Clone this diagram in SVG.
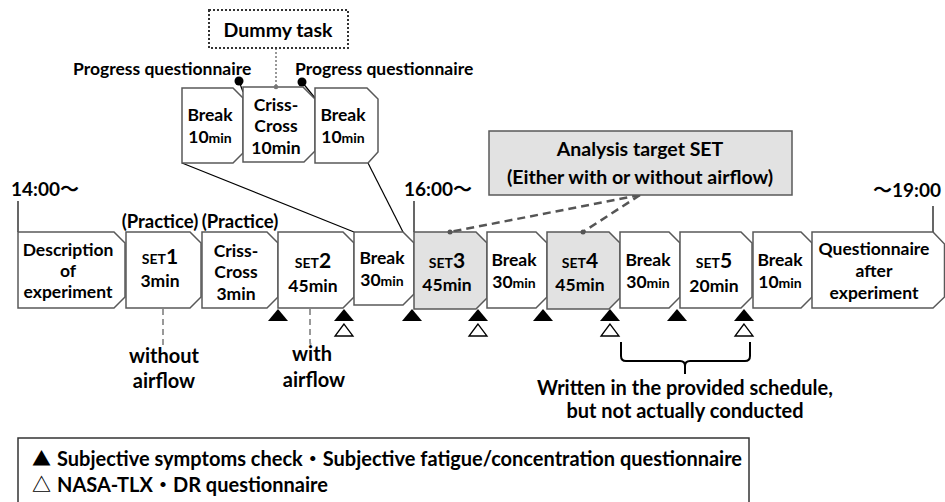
<svg xmlns="http://www.w3.org/2000/svg" width="945" height="502" viewBox="0 0 945 502">
<defs>
<style>
text{font-family:Lato,"Noto Sans CJK JP",sans-serif;font-weight:700;fill:#000;font-size:17.5px}
.c{text-anchor:middle}
.l20{font-size:20px}
.l19{font-size:19px}
.box{fill:#fff;stroke:#595959;stroke-width:1.5}
.gray{fill:#e2e2e2}
.sm{font-size:14px}
.big{font-size:21px}
.tf{fill:#000}
.to{fill:#fff;stroke:#000;stroke-width:1.3}
.ln{stroke:#000;stroke-width:1.2;fill:none}
.dash{stroke:#555;stroke-width:2.5;stroke-dasharray:8 5;fill:none}
.gdash{stroke:#999;stroke-width:2;stroke-dasharray:6 4;fill:none}
.dot{stroke:#777;stroke-width:1.5;stroke-dasharray:2 2;fill:none}
.cjk{font-family:"Noto Sans CJK JP",sans-serif}
.tri{font-family:"Noto Sans CJK JP",sans-serif;font-size:19px}
</style>
</defs>
<rect width="945" height="502" fill="#fff"/>

<g id="connectors">
<line class="ln" x1="182" y1="163" x2="354" y2="232"/>
<line class="ln" x1="368" y1="163" x2="403" y2="232"/>
<line class="dot" x1="276" y1="48" x2="276" y2="87"/>
<line class="ln" x1="18" y1="201" x2="18" y2="232"/>
<line class="ln" x1="414" y1="201" x2="414" y2="232"/>
<line class="ln" x1="933" y1="206" x2="933" y2="232"/>
<line class="dash" x1="640" y1="195" x2="450" y2="232"/>
<line class="dash" x1="640" y1="195" x2="583" y2="232"/>
<line class="gdash" x1="163" y1="309" x2="163" y2="346"/>
<path class="gdash" d="M310,309 V342 Q310,345 313,346"/>
<path d="M621,342 V356 Q621,361 626,361 H680 Q685,361 685,366 V374 M685,366 Q685,361 690,361 H745 Q750,361 750,356 V342" fill="none" stroke="#000" stroke-width="2"/>
</g>

<g id="dummy-task">
<rect x="209" y="10" width="139" height="38" fill="#fff" stroke="#333" stroke-width="2" stroke-dasharray="2 2"/>
<text class="c" x="278" y="37" style="font-size:19.5px">Dummy task</text>
</g>

<g id="progress-left">
<text x="73" y="75">Progress questionnaire</text>
<line class="ln" x1="239" y1="81" x2="243" y2="92"/>
<circle cx="239" cy="81" r="4.5" fill="#000"/>
</g>
<g id="progress-right">
<text x="295" y="75">Progress questionnaire</text>
<line class="ln" x1="302" y1="82" x2="315" y2="98"/>
<circle cx="302" cy="82" r="4.5" fill="#000"/>
</g>

<g id="break10-a">
<path class="box" d="M182,88 H233 L243,98 V153 L233,163 H182 Z"/>
<text class="c" x="210" y="121">Break</text>
<text class="c" x="210" y="143">10<tspan class="sm">min</tspan></text>
</g>
<g id="crisscross-10">
<path class="box" d="M243,87 H303 L315,99 V151 L304,162 H243 Z"/>
<circle cx="276" cy="87" r="2.3" fill="#777"/>
<text class="c" x="276" y="111">Criss-</text>
<text class="c" x="276" y="132">Cross</text>
<text class="c" x="276" y="154">10min</text>
</g>
<g id="break10-b">
<path class="box" d="M315,88 H367 L378,99 V152 L368,163 H315 Z"/>
<text class="c" x="343" y="121">Break</text>
<text class="c" x="343" y="143">10<tspan class="sm">min</tspan></text>
</g>

<g id="time-1400"><text class="l19" x="11" y="196">14:00～</text></g>
<g id="time-1600"><text class="l19" x="404" y="196">16:00～</text></g>
<g id="time-1900"><text class="l19" x="873" y="197">～19:00</text></g>

<g id="analysis-target">
<rect x="489" y="131" width="303" height="64" fill="#e2e2e2" stroke="#595959" stroke-width="1.5"/>
<text class="c" x="640" y="156" style="font-size:19.5px">Analysis target SET</text>
<text class="c" x="640" y="184" style="font-size:19.5px">(Either with or without airflow)</text>
</g>

<g id="practice-labels">
<text class="c" x="160" y="228" style="font-size:18.5px">(Practice)</text>
<text class="c" x="240" y="228" style="font-size:18.5px">(Practice)</text>
</g>

<g id="description">
<path class="box" d="M18,232 H114 L125,243 V297 L114,308 H18 Z"/>
<text class="c" x="68" y="256">Description</text>
<text class="c" x="68" y="277">of</text>
<text class="c" x="68" y="298">experiment</text>
</g>
<g id="set1">
<path class="box" d="M126,232 H190 L201,243 V297 L190,308 H126 Z"/>
<text class="c" x="160" y="264"><tspan class="sm">SET</tspan><tspan class="big">1</tspan></text>
<text class="c" x="160" y="287">3min</text>
</g>
<g id="crisscross-3">
<path class="box" d="M202,232 H267 L278,243 V297 L267,308 H202 Z"/>
<text class="c" x="236" y="257">Criss-</text>
<text class="c" x="236" y="278">Cross</text>
<text class="c" x="236" y="300">3min</text>
</g>
<g id="set2">
<path class="box" d="M278,232 H343 L354,243 V297 L343,308 H278 Z"/>
<text class="c" x="313" y="268"><tspan class="sm">SET</tspan><tspan class="big">2</tspan></text>
<text class="c" x="313" y="292">45min</text>
</g>
<g id="break30-a">
<path class="box" d="M354,232 H403 L414,243 V294 L403,305 H354 Z"/>
<text class="c" x="382" y="264">Break</text>
<text class="c" x="382" y="286">30<tspan class="sm">min</tspan></text>
</g>
<g id="set3">
<path class="box gray" d="M414,232 H476 L487,243 V298 L476,309 H414 Z"/>
<circle cx="450" cy="232" r="2.5" fill="#555"/>
<text class="c" x="447" y="268"><tspan class="sm">SET</tspan><tspan class="big">3</tspan></text>
<text class="c" x="447" y="291">45min</text>
</g>
<g id="break30-b">
<path class="box" d="M487,232 H536 L547,243 V297 L536,308 H487 Z"/>
<text class="c" x="514" y="266">Break</text>
<text class="c" x="514" y="288">30<tspan class="sm">min</tspan></text>
</g>
<g id="set4">
<path class="box gray" d="M547,232 H609 L620,243 V298 L609,309 H547 Z"/>
<circle cx="583" cy="232" r="2.5" fill="#555"/>
<text class="c" x="580" y="268"><tspan class="sm">SET</tspan><tspan class="big">4</tspan></text>
<text class="c" x="580" y="291">45min</text>
</g>
<g id="break30-c">
<path class="box" d="M620,232 H669 L680,243 V297 L669,308 H620 Z"/>
<text class="c" x="648" y="266">Break</text>
<text class="c" x="648" y="288">30<tspan class="sm">min</tspan></text>
</g>
<g id="set5">
<path class="box" d="M680,232 H741 L752,243 V297 L741,308 H680 Z"/>
<text class="c" x="714" y="268"><tspan class="sm">SET</tspan><tspan class="big">5</tspan></text>
<text class="c" x="714" y="292">20min</text>
</g>
<g id="break10-c">
<path class="box" d="M753,232 H801 L812,243 V297 L801,308 H753 Z"/>
<text class="c" x="780" y="266">Break</text>
<text class="c" x="780" y="288">10<tspan class="sm">min</tspan></text>
</g>
<g id="questionnaire-after">
<path class="box" d="M812,232 H933 L944.5,244 V297 L933,308 H812 Z"/>
<text class="c" x="874" y="255">Questionnaire</text>
<text class="c" x="874" y="277">after</text>
<text class="c" x="874" y="299">experiment</text>
</g>

<g id="markers">
<polygon class="tf" points="278,309 268,321 288,321"/>
<polygon class="tf" points="344,309 334,321 354,321"/>
<polygon class="tf" points="412,309 402,321 422,321"/>
<polygon class="tf" points="478,309 468,321 488,321"/>
<polygon class="tf" points="543,309 533,321 553,321"/>
<polygon class="tf" points="610,309 600,321 620,321"/>
<polygon class="tf" points="677,309 667,321 687,321"/>
<polygon class="tf" points="744,309 734,321 754,321"/>
<polygon class="to" points="344,324 335,336 353,336"/>
<polygon class="to" points="478,324 469,336 487,336"/>
<polygon class="to" points="610,324 601,336 619,336"/>
<polygon class="to" points="744,324 735,336 753,336"/>
</g>

<g id="airflow-labels">
<text class="c l20" x="164" y="363">without</text>
<text class="c l20" x="164" y="388">airflow</text>
<text class="c l20" x="312" y="361">with</text>
<text class="c l20" x="314" y="387">airflow</text>
</g>

<g id="not-conducted-note">
<text class="c l20" x="685" y="395">Written in the provided schedule,</text>
<text class="c l20" x="685" y="418">but not actually conducted</text>
</g>

<g id="legend">
<rect x="18" y="438" width="731" height="70" fill="#fff" stroke="#333" stroke-width="1.5"/>
<text class="tri" x="32" y="466">▲</text>
<text class="tri" x="32" y="492">△</text>
<text class="l20" x="57" y="466">Subjective symptoms check<tspan class="cjk">・</tspan>Subjective fatigue/concentration questionnaire</text>
<text class="l20" x="57" y="492">NASA-TLX<tspan class="cjk">・</tspan>DR questionnaire</text>
</g>
</svg>
